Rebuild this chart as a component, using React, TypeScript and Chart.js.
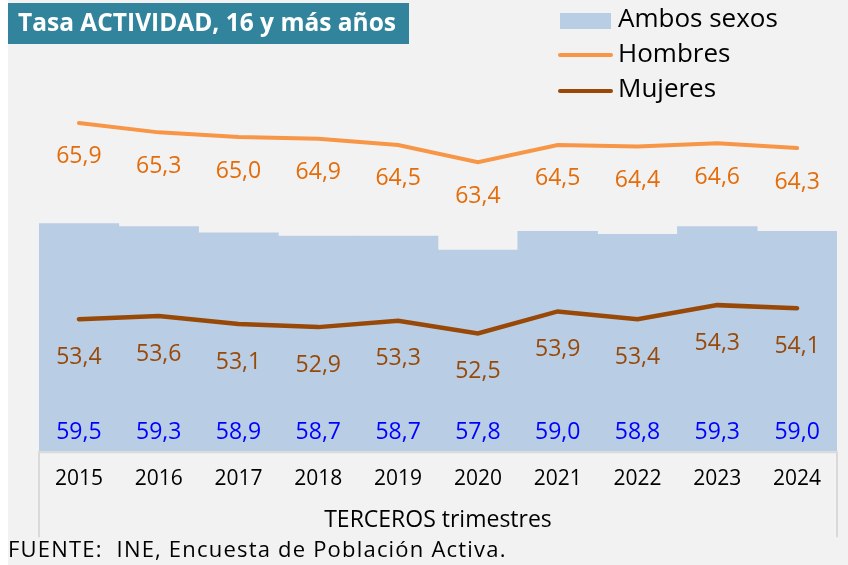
import React, { useEffect, useRef } from "react";
import { Chart, registerables } from "chart.js";

Chart.register(...registerables);

const years = ["2015", "2016", "2017", "2018", "2019", "2020", "2021", "2022", "2023", "2024"];
const ambos = [59.5, 59.3, 58.9, 58.7, 58.7, 57.8, 59.0, 58.8, 59.3, 59.0];
const hombres = [65.9, 65.3, 65.0, 64.9, 64.5, 63.4, 64.5, 64.4, 64.6, 64.3];
const mujeres = [53.4, 53.6, 53.1, 52.9, 53.3, 52.5, 53.9, 53.4, 54.3, 54.1];

const FONT = "'Open Sans', sans-serif";
const fmt = (v: number) => v.toFixed(1).replace(".", ",");

const decorPlugin = {
  id: "decor",
  beforeDraw(chart: any) {
    const ctx = chart.ctx;
    ctx.save();
    ctx.fillStyle = "#ffffff";
    ctx.fillRect(0, 0, chart.width, chart.height);
    ctx.fillStyle = "#f2f2f2";
    ctx.fillRect(8, 0, chart.width - 8, chart.height);
    ctx.restore();
  },
  afterDraw(chart: any) {
    const ctx = chart.ctx;
    const ca = chart.chartArea;
    ctx.save();
    // frame lines of category axis
    ctx.strokeStyle = "#d9d9d9";
    ctx.lineWidth = 2;
    ctx.beginPath();
    ctx.moveTo(ca.left, ca.bottom + 1);
    ctx.lineTo(ca.right, ca.bottom + 1);
    ctx.moveTo(ca.left, ca.bottom);
    ctx.lineTo(ca.left, ca.bottom + 86);
    ctx.moveTo(ca.right, ca.bottom);
    ctx.lineTo(ca.right, ca.bottom + 86);
    ctx.stroke();

    // title box
    ctx.fillStyle = "#31849b";
    ctx.fillRect(8, 3, 401, 41);
    ctx.fillStyle = "#ffffff";
    ctx.font = `bold 24.5px ${FONT}`;
    ctx.textBaseline = "middle";
    ctx.textAlign = "left";
    ctx.fillText("Tasa ACTIVIDAD, 16 y más años", 18, 24);

    // legend
    ctx.fillStyle = "#b9cde5";
    ctx.fillRect(560, 13, 51, 16);
    ctx.lineCap = "round";
    ctx.lineWidth = 4;
    ctx.strokeStyle = "#f79646";
    ctx.beginPath();
    ctx.moveTo(560, 55);
    ctx.lineTo(611, 55);
    ctx.stroke();
    ctx.strokeStyle = "#984807";
    ctx.beginPath();
    ctx.moveTo(560, 91);
    ctx.lineTo(611, 91);
    ctx.stroke();
    ctx.font = `26px ${FONT}`;
    ctx.fillStyle = "#000000";
    ctx.fillText("Ambos sexos", 618, 20);
    ctx.fillText("Hombres", 618, 55);
    ctx.fillText("Mujeres", 618, 90);

    // source
    ctx.font = `22px ${FONT}`;
    (ctx as any).letterSpacing = "1.2px";
    ctx.fillText("FUENTE:  INE, Encuesta de Población Activa.", 8, 551);
    (ctx as any).letterSpacing = "0px";
    ctx.restore();
  },
  afterDatasetsDraw(chart: any) {
    const ctx = chart.ctx;
    const ca = chart.chartArea;
    ctx.save();
    ctx.font = `23px ${FONT}`;
    ctx.textAlign = "center";
    ctx.textBaseline = "middle";
    chart.data.datasets.forEach((ds: any, i: number) => {
      const meta = chart.getDatasetMeta(i);
      meta.data.forEach((el: any, j: number) => {
        const v = ds.data[j] as number;
        let y: number;
        if (ds.type === "bar") {
          y = ca.bottom - 19;
        } else {
          y = el.y + ds.labelOffset;
        }
        ctx.fillStyle = ds.labelColor;
        ctx.fillText(fmt(v), el.x, y);
      });
    });
    ctx.restore();
  },
};

export default function App() {
  const ref = useRef<HTMLCanvasElement | null>(null);
  useEffect(() => {
    if (!ref.current) return;
    const chart = new Chart(ref.current, {
      type: "bar",
      data: {
        labels: years,
        datasets: [
          {
            type: "line",
            label: "Hombres",
            data: hombres,
            borderColor: "#f79646",
            borderWidth: 4,
            pointRadius: 0,
            tension: 0,
            borderCapStyle: "round",
            order: 1,
            labelOffset: 34,
            labelColor: "#e46c0a",
          } as any,
          {
            type: "line",
            label: "Mujeres",
            data: mujeres,
            borderColor: "#984807",
            borderWidth: 4.5,
            pointRadius: 0,
            tension: 0,
            borderCapStyle: "round",
            order: 1,
            labelOffset: 38,
            labelColor: "#984807",
          } as any,
          {
            type: "bar",
            label: "Ambos sexos",
            data: ambos,
            backgroundColor: "#b9cde5",
            borderWidth: 0,
            barPercentage: 1,
            categoryPercentage: 1,
            order: 2,
            labelColor: "#0000ff",
          } as any,
        ],
      },
      options: {
        responsive: false,
        animation: false,
        layout: { padding: { left: 39, right: 11, top: 2, bottom: 31 } },
        plugins: { legend: { display: false }, tooltip: { enabled: false }, title: { display: false } },
        scales: {
          x: {
            grid: { display: false, drawTicks: false },
            border: { display: false },
            ticks: { color: "#000000", font: { family: FONT, size: 21 }, padding: 15, maxRotation: 0 },
            title: {
              display: true,
              text: "TERCEROS trimestres",
              color: "#000000",
              font: { family: FONT, size: 23 },
              padding: { top: 0, bottom: 0 },
            },
          },
          y: { display: false, min: 45, max: 73.6 },
        },
      },
      plugins: [decorPlugin],
    });
    return () => chart.destroy();
  }, []);
  return (
    <div style={{ position: "absolute", left: 0, top: 0, width: 848, height: 565 }}>
      <canvas ref={ref} width={848} height={565} style={{ width: 848, height: 565, display: "block" }} />
    </div>
  );
}
